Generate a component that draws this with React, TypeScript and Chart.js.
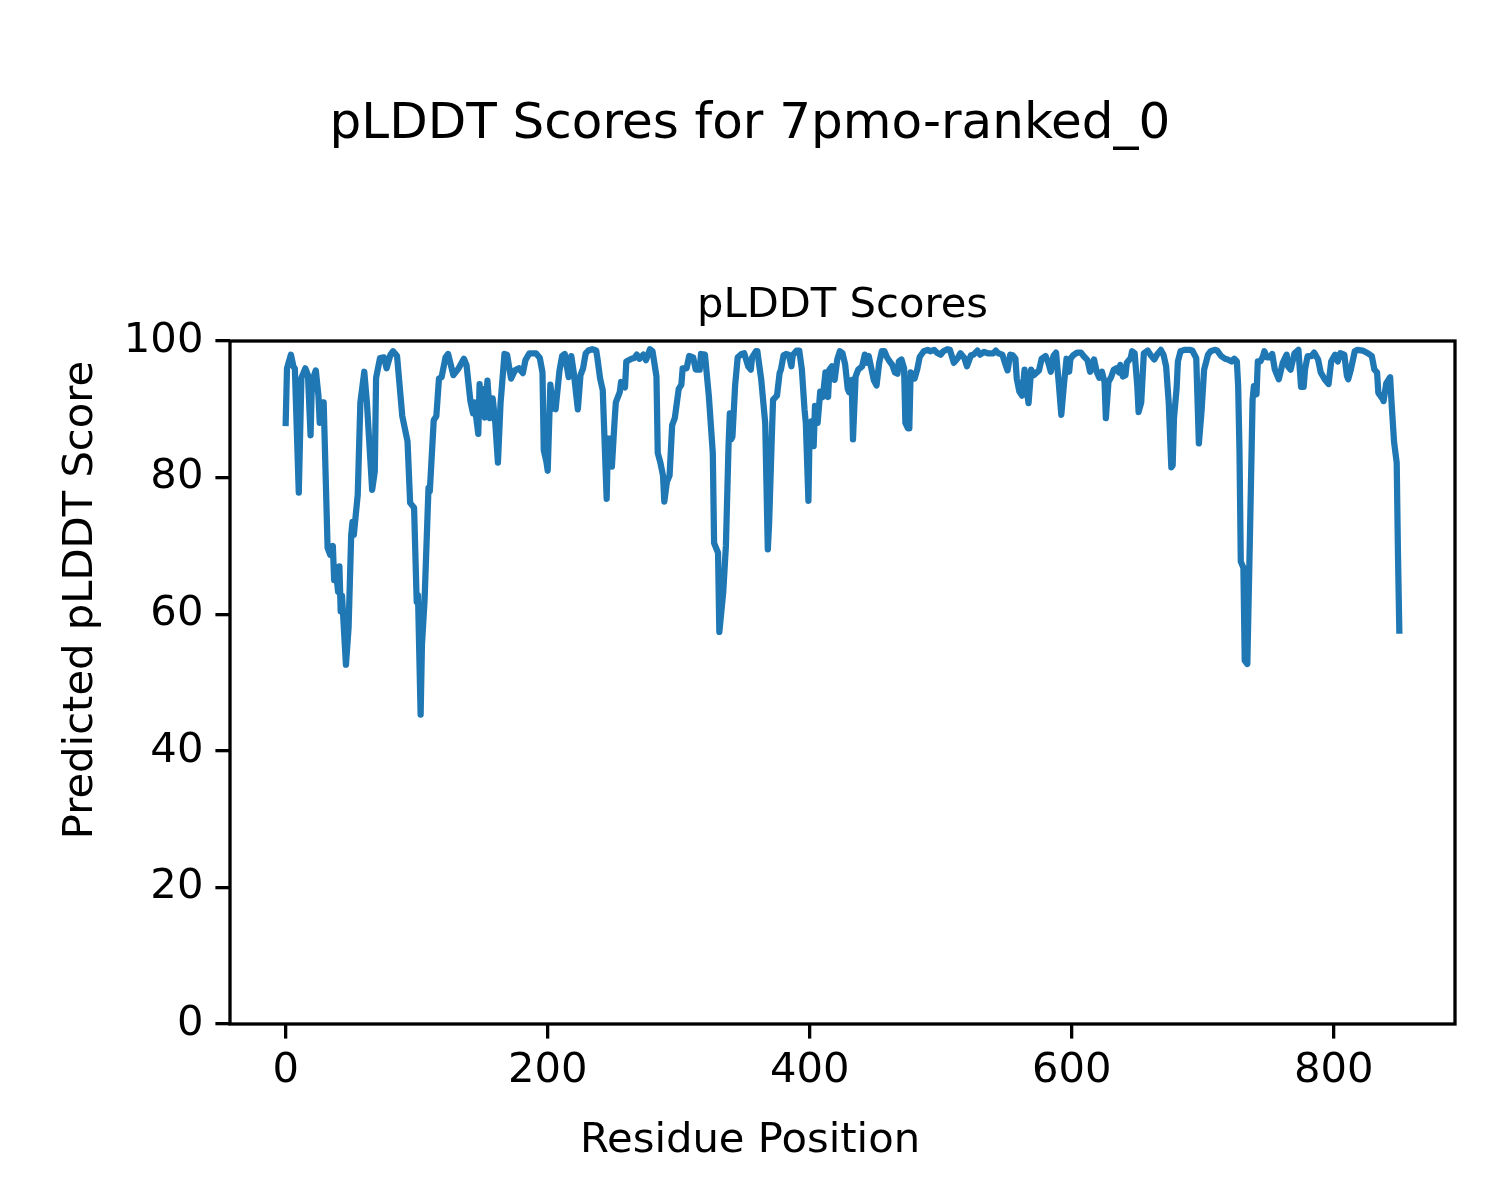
import React, { useEffect, useRef } from "react";
import { Chart, registerables } from "chart.js";

Chart.register(...registerables);

const residues = [
  0, 1, 4, 6, 7, 10, 12, 15, 17, 19, 20, 23, 25, 26, 28, 29, 32, 34, 36, 37, 38, 40, 41, 42, 43, 46, 48, 50, 51, 52,
  55, 57, 60, 62, 66, 68, 69, 72, 75, 77, 80, 82, 85, 89, 93, 95, 98, 100, 101, 103, 104, 106, 109, 110, 113, 115,
  117, 119, 122, 124, 128, 132, 136, 138, 141, 143, 144, 147, 148, 149, 150, 152, 154, 156, 158, 160, 162, 164, 167,
  169, 172, 175, 178, 181, 183, 186, 191, 194, 196, 197, 199, 200, 202, 204, 206, 209, 211, 213, 216, 218, 220, 223,
  225, 227, 229, 231, 234, 237, 238, 240, 242, 245, 246, 248, 249, 251, 252, 255, 256, 259, 260, 264, 266, 268, 270,
  273, 275, 278, 280, 283, 284, 286, 288, 289, 291, 293, 295, 297, 300, 302, 303, 306, 308, 311, 313, 316, 317, 320,
  323, 326, 327, 330, 331, 334, 336, 338, 339, 340, 341, 343, 345, 348, 350, 353, 355, 356, 359, 360, 363, 366, 368,
  369, 371, 372, 375, 377, 378, 380, 382, 384, 386, 387, 390, 392, 394, 396, 397, 399, 400, 401, 403, 404, 406, 408,
  409, 410, 412, 414, 415, 417, 419, 421, 423, 425, 427, 429, 430, 432, 433, 435, 437, 440, 442, 444, 445, 447, 449,
  451, 453, 455, 457, 459, 461, 463, 465, 467, 468, 470, 472, 473, 475, 476, 477, 479, 480, 482, 484, 487, 490, 492,
  495, 497, 500, 502, 505, 507, 510, 513, 515, 518, 520, 523, 525, 528, 530, 533, 536, 538, 540, 542, 544, 547, 549,
  551, 553, 555, 557, 558, 560, 562, 564, 566, 567, 569, 571, 575, 577, 580, 582, 584, 586, 588, 590, 592, 594, 596,
  598, 599, 601, 604, 607, 609, 612, 614, 617, 619, 621, 623, 625, 626, 628, 630, 632, 634, 636, 637, 639, 641, 642,
  645, 646, 648, 650, 651, 653, 655, 658, 660, 663, 665, 668, 670, 672, 674, 676, 677, 678, 680, 681, 683, 686, 690,
  692, 695, 697, 699, 701, 704, 706, 709, 711, 714, 717, 719, 722, 724, 726, 727, 728, 729, 731, 732, 734, 736, 738,
  739, 741, 742, 744, 746, 747, 749, 751, 753, 755, 758, 761, 764, 765, 767, 770, 773, 775, 777, 778, 780, 783, 785,
  788, 790, 793, 796, 798, 801, 803, 805, 808, 810, 811, 813, 816, 818, 822, 826, 829, 831, 833, 834, 837, 838, 840,
  843, 844, 846, 848, 849, 850,
];

const plddt = [
  88, 96, 98, 96.2, 96, 77.8, 94.6, 96, 95, 86.2, 94, 95.7, 92, 88, 91, 91, 69.7, 68.7, 70, 65, 67, 63.3, 67, 60.4,
  62.7, 52.6, 58, 71.6, 73.5, 71.6,
  77.5, 91, 95.5, 91, 78.2, 80.9, 94.6, 97.5, 97.6, 96, 98, 98.5, 97.8, 89, 85.3, 76.3, 75.6, 61.8, 62.8, 45.3, 55.5,
  62, 78.5, 78, 88.4, 89,
  94.5, 94.7, 97.6, 98.1, 95, 96, 97.4, 96.5, 91.2, 89.4, 91, 86.4, 93.7, 89.6, 93, 88.8, 94.2, 88.7, 91.6, 88, 82.2,
  90.9, 98.1,
  98, 94.5, 95.7, 96, 95.3, 97.2, 98.2, 98.2, 97.5, 95.4, 84, 82.3, 81, 93.6, 90.2, 90, 95.7, 97.8, 98.1, 94.7, 97.8,
  95.2, 90,
  95, 96, 98.2, 98.6, 98.8, 98.6, 97.4, 94.5, 92.8, 76.9, 85.7, 85.7, 81.6, 88.2, 91, 92.5, 94, 93.2, 97, 97.4, 97.5,
  98, 97.4,
  98, 97.2, 98.8, 98.5, 94.8, 83.6, 82.2, 80.3, 76.5, 79.4, 80.3, 87.7, 88.7, 93, 93.6, 96, 96, 97.8, 97.6, 95.8, 95.8,
  98.1, 98,
  91.9, 83.6, 70.4, 69, 57.4, 63.3, 70, 84.6, 89.4, 85.6, 86, 93.4, 97.6, 98.1, 98.2, 96.3, 95.8, 97.6, 98.5, 98.5,
  94.3, 88, 69.5,
  73.3, 85.7, 91.4, 92, 95.3, 95.8, 97.9, 98.1, 98, 96.3, 97.9, 98.6, 98.6, 95.8, 90, 88, 76.6, 88, 88.2, 84.6, 90.5,
  88, 92.6,
  92.3, 91.8, 95.4, 91.8, 95.8, 96.3, 94.3, 97.3, 98.5, 98.2, 96.6, 93, 92.5, 94.3, 85.6, 94.8, 95.8, 96.3, 98, 96.8,
  97.8, 96, 94.2,
  93.5, 96.8, 98.5, 98.5, 97.6, 97, 96.5, 95.4, 95.2, 97, 97.3, 96, 88, 87.2, 87.2, 95.4, 95, 94.5, 95.8, 97.7, 98.5,
  98.7, 98.5,
  98.7, 98.3, 98, 98.5, 98.8, 98.7, 96.8, 97.5, 98.2, 97.5, 96.3, 97.9, 98, 98.6, 98, 98.4, 98.2, 98.2, 98.2, 98.6,
  98.2, 98, 96.8,
  95.7, 98, 97.9, 97.4, 94.5, 92.6, 92, 95.8, 92.3, 90.9, 95.8, 95, 95.7, 97.4, 97.8, 96.9, 95.5, 97.8, 98.3, 94, 89.2,
  93.6, 97.4,
  95.5, 97.4, 97.9, 98.3, 98.3, 97.8, 97.2, 95.5, 97.3, 95.5, 94.6, 95.5, 94, 88.7, 94, 94.7, 95.8, 96, 95.4, 96.5,
  94.8, 95, 96.8,
  97.5, 98.5, 98.2, 93.4, 89.6, 91, 98.2, 98.6, 98, 97.3, 98, 98.7, 98, 96.3, 91, 81.5, 81.8, 88.7, 93, 97, 98.5, 98.7,
  98.7,
  98.6, 97.5, 85, 89.6, 95.8, 98, 98.5, 98.7, 98.6, 97.8, 97.4, 97.3, 97, 97.4, 97, 93.4, 84, 67.7, 66.8, 53.2, 52.7,
  71.6, 91.4,
  93.4, 92.2, 97, 97, 97.8, 98.5, 97.6, 97.6, 98.1, 95.8, 94.4, 96.8, 98, 96.3, 95.8, 98.2, 98.7, 93.3, 93.3, 95.8,
  97.8, 97.8, 98.3,
  97.3, 95.4, 94.4, 93.7, 97, 98, 97, 98.2, 98, 94.9, 94.4, 95.8, 98.5, 98.7, 98.6, 98.2, 97.8, 95.8, 95.4, 92.4, 91.6,
  91.2, 93.8,
  94.7, 91.2, 85.2, 82.2, 68.5, 57.6,
];

const xTicks = [0, 200, 400, 600, 800];
const yTicks = [0, 20, 40, 60, 80, 100];

const figureTitle = "pLDDT Scores for 7pmo-ranked_0";
const axesTitle = "pLDDT Scores";
const xLabel = "Residue Position";
const yLabel = "Predicted pLDDT Score";

const FONT = "'DejaVu Sans', 'Liberation Sans', sans-serif";

export default function App() {
  const ref = useRef<HTMLCanvasElement>(null);

  useEffect(() => {
    document.body.style.margin = "0";
    const canvas = ref.current;
    if (!canvas) return;

    const textPlugin = {
      id: "figureText",
      afterDraw(chart: any) {
        const { ctx, chartArea } = chart;
        ctx.save();
        ctx.strokeStyle = "#000000";
        ctx.lineWidth = 3.3;
        ctx.strokeRect(
          chartArea.left,
          chartArea.top,
          chartArea.right - chartArea.left,
          chartArea.bottom - chartArea.top
        );
        ctx.fillStyle = "#000000";
        ctx.textAlign = "center";
        ctx.textBaseline = "alphabetic";
        ctx.font = `50px ${FONT}`;
        ctx.fillText(figureTitle, 750, 138);
        ctx.font = `41.7px ${FONT}`;
        ctx.fillText(axesTitle, (chartArea.left + chartArea.right) / 2, 317);
        ctx.fillText(xLabel, 750, 1152);
        ctx.translate(92, 600);
        ctx.rotate(-Math.PI / 2);
        ctx.fillText(yLabel, 0, 0);
        ctx.restore();
      },
    };

    const points = residues.map((r, i) => ({ x: r, y: plddt[i] }));

    const chart = new Chart(canvas, {
      type: "line",
      data: {
        datasets: [
          {
            data: points,
            borderColor: "#1f77b4",
            borderWidth: 6.25,
            pointRadius: 0,
            tension: 0,
            borderJoinStyle: "round",
            borderCapStyle: "square",
            fill: false,
          },
        ],
      },
      options: {
        animation: false,
        responsive: false,
        devicePixelRatio: 1,
        parsing: false as any,
        layout: { padding: { top: 341, left: 0, right: 45, bottom: 0 } },
        plugins: {
          legend: { display: false },
          tooltip: { enabled: false },
          title: { display: false },
        },
        scales: {
          x: {
            type: "linear",
            min: -42.5,
            max: 892.5,
            afterBuildTicks: (scale: any) => {
              scale.ticks = xTicks.map((v) => ({ value: v }));
            },
            afterFit: (scale: any) => {
              scale.height = 176;
            },
            grid: {
              drawOnChartArea: false,
              drawTicks: true,
              tickLength: 14.6,
              lineWidth: 3.3,
              color: "#000000",
            },
            border: { display: false },
            ticks: {
              color: "#000000",
              font: { family: FONT, size: 41.7 },
              padding: 8,
              maxRotation: 0,
              autoSkip: false,
            },
          },
          y: {
            type: "linear",
            min: 0,
            max: 100,
            afterBuildTicks: (scale: any) => {
              scale.ticks = yTicks.map((v) => ({ value: v }));
            },
            afterFit: (scale: any) => {
              scale.width = 230;
            },
            grid: {
              drawOnChartArea: false,
              drawTicks: true,
              tickLength: 14.6,
              lineWidth: 3.3,
              color: "#000000",
            },
            border: { display: false },
            ticks: {
              color: "#000000",
              font: { family: FONT, size: 41.7 },
              padding: 12,
              autoSkip: false,
            },
          },
        },
      },
      plugins: [textPlugin],
    });

    return () => chart.destroy();
  }, []);

  return (
    <div style={{ width: 1500, height: 1200, background: "#ffffff" }}>
      <canvas ref={ref} width={1500} height={1200} style={{ width: 1500, height: 1200, display: "block" }} />
    </div>
  );
}
